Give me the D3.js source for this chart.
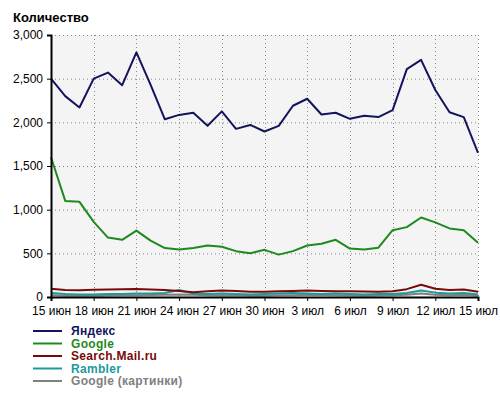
<!DOCTYPE html>
<html>
<head>
<meta charset="utf-8">
<script src="https://cdn.jsdelivr.net/npm/d3@7"></script>
<style>
  body { margin: 0; background: #fff; }
  text { font-family: "Liberation Sans", Arial, sans-serif; }
</style>
</head>
<body>
<div id="chart"></div>
<script>
// days 15 июн .. 15 июл (31 points)
const days = d3.range(0, 31);
const tickDays = [0, 3, 6, 9, 12, 15, 18, 21, 24, 27, 30];
const tickLabels = ["15 июн", "18 июн", "21 июн", "24 июн", "27 июн", "30 июн", "3 июл", "6 июл", "9 июл", "12 июл", "15 июл"];
const yTicks = [0, 500, 1000, 1500, 2000, 2500, 3000];

const yandex = [2500, 2300, 2170, 2500, 2570, 2425, 2800, 2430, 2035, 2085, 2110, 1960, 2125, 1925, 1970,
                1895, 1960, 2190, 2270, 2090, 2110, 2040, 2075, 2060, 2140, 2610, 2715, 2370, 2115, 2060, 1650];
const google = [1600, 1100, 1090, 860, 680, 655, 760, 645, 560, 545, 560, 590, 575, 525, 500,
                540, 485, 525, 590, 610, 655, 555, 545, 565, 765, 800, 910, 855, 785, 765, 620];
const mailru = [95, 80, 78, 82, 85, 88, 92, 85, 80, 70, 55, 65, 75, 70, 60,
                60, 65, 70, 75, 70, 65, 65, 62, 60, 65, 90, 140, 95, 80, 85, 60];
const rambler = [45, 35, 30, 30, 35, 35, 40, 40, 45, 80, 40, 35, 40, 35, 30,
                 35, 40, 45, 40, 35, 40, 35, 30, 35, 35, 45, 75, 50, 40, 45, 30];
const googleImg = [20, 15, 15, 15, 18, 20, 20, 22, 25, 30, 25, 20, 18, 20, 15,
                   15, 20, 20, 25, 22, 20, 18, 15, 18, 20, 25, 40, 25, 20, 25, 15];

const seriesNames = ["Яндекс", "Google", "Search.Mail.ru", "Rambler", "Google (картинки)"];
const seriesColors = ["#14145e", "#1e8a1e", "#7a0a0a", "#1a9a9a", "#808080"];
const seriesValues = [yandex, google, mailru, rambler, googleImg];

const w = 500, h = 397;
const plotLeft = 51, plotRight = 478, plotTop = 35, plotBottom = 297;

const svg = d3.select("#chart").append("svg").attr("width", w).attr("height", h);

const x = d3.scaleLinear().domain([0, 30]).range([plotLeft, plotRight]);
const y = d3.scaleLinear().domain([0, 3000]).range([plotBottom, plotTop]);

svg.append("rect")
   .attr("x", plotLeft).attr("y", plotTop)
   .attr("width", plotRight - plotLeft).attr("height", plotBottom - plotTop)
   .attr("fill", "#f4f4f4");

// grid
svg.append("g").selectAll("line").data(yTicks.slice(1)).join("line")
   .attr("x1", plotLeft).attr("x2", plotRight)
   .attr("y1", d => y(d) + 0.5).attr("y2", d => y(d) + 0.5)
   .attr("stroke", "#888").attr("stroke-dasharray", "1,3");
svg.append("g").selectAll("line").data(tickDays.slice(1)).join("line")
   .attr("x1", d => Math.round(x(d)) + 0.5).attr("x2", d => Math.round(x(d)) + 0.5)
   .attr("y1", plotTop).attr("y2", plotBottom)
   .attr("stroke", "#888").attr("stroke-dasharray", "1,3");

// lines (draw bottom series first)
const line = d3.line().x((d, i) => x(days[i])).y(d => y(d));
for (let k = seriesValues.length - 1; k >= 0; k--) {
  svg.append("path")
     .datum(seriesValues[k])
     .attr("d", line)
     .attr("fill", "none")
     .attr("stroke", seriesColors[k])
     .attr("stroke-width", 2)
     .attr("stroke-linejoin", "round");
}

// axes
const yAxis = d3.axisLeft(y).tickValues(yTicks).tickFormat(d3.format(",")).tickSize(4);
const xAxis = d3.axisBottom(x).tickValues(tickDays).tickFormat((d, i) => tickLabels[i]).tickSize(4);

const gy = svg.append("g").attr("transform", `translate(${plotLeft},0)`).call(yAxis);
gy.select(".domain").attr("stroke", "#000").attr("stroke-width", 2);
gy.selectAll("text").attr("font-size", 12).attr("fill", "#000").attr("dx", -1);

const gx = svg.append("g").attr("transform", `translate(0,${plotBottom})`).call(xAxis);
gx.select(".domain").attr("stroke", "#000").attr("stroke-width", 2);
gx.selectAll("text").attr("font-size", 12).attr("fill", "#000").attr("dy", "0.95em");

svg.append("text")
   .attr("x", 13).attr("y", 22)
   .attr("font-size", 13).attr("font-weight", "bold")
   .text("Количество");

// legend
const legend = svg.append("g").selectAll("g").data(seriesNames).join("g")
   .attr("transform", (d, i) => `translate(33,${331 + i * 12.5})`);
legend.append("line").attr("x1", 0).attr("x2", 29)
   .attr("stroke", (d, i) => seriesColors[i]).attr("stroke-width", 2);
legend.append("text").attr("x", 38).attr("dy", "0.35em")
   .attr("font-size", 12).attr("font-weight", "bold").attr("letter-spacing", 0.3)
   .attr("fill", (d, i) => seriesColors[i])
   .text(d => d);
</script>
</body>
</html>
